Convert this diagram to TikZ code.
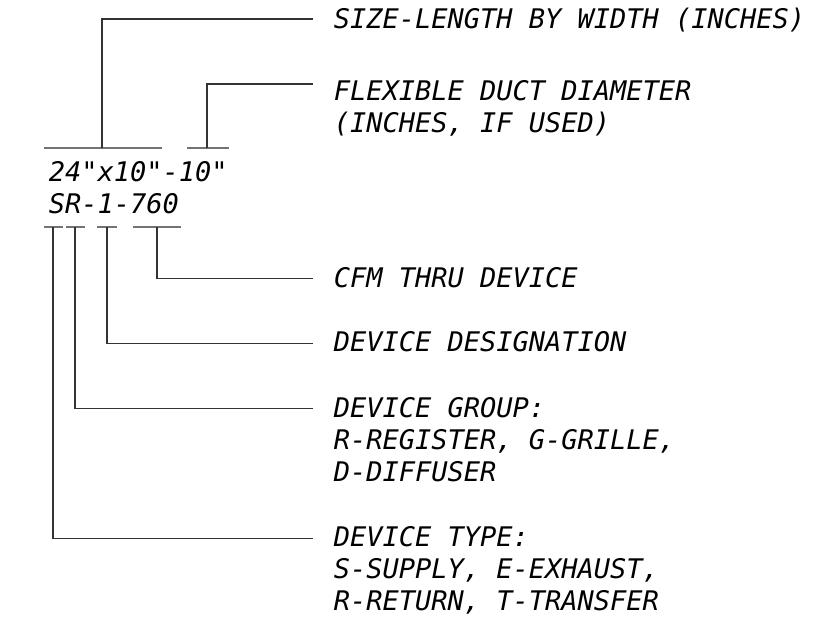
\documentclass[tikz,border=0pt]{standalone}
\usepackage{fontspec}
\setmonofont{DejaVu Sans Mono}[ItalicFont={DejaVu Sans Mono Oblique}]
\usetikzlibrary{positioning, calc}

\begin{document}
\begin{tikzpicture}[
        x=1pt, y=-1pt,
        line width=1.5pt,
        % Styles for the tag legend
        tag/.style={
            inner sep=0pt, anchor=base west,
            font=\fontsize{27}{32}\selectfont\ttfamily\itshape
        },
        note/.style={
            tag, align=left
        },
        bar/.style={draw=black!55},
        leader/.style={draw=black!80}
    ]

    \useasboundingbox (0,0) rectangle (818,621);

    % 1. THE TAG ITSELF
    \node[tag] (sizeTag) at (48, 181.7) {24"x10"-10"};
    \node[tag] (devTag)  at (48, 213.3) {SR-1-760};

    % 2. BARS OVER AND UNDER THE TAG
    \draw[bar] (44,148) -- (162,148);
    \draw[bar] (187,148) -- (229,148);
    \draw[bar] (44,227) -- (63,227);
    \draw[bar] (66,227) -- (85,227);
    \draw[bar] (97,227) -- (117,227);
    \draw[bar] (133,227) -- (181,227);

    \coordinate (sizeBar) at (102,148);
    \coordinate (flexBar) at (207,148);
    \coordinate (typeBar) at (53,227);
    \coordinate (groupBar) at (75,227);
    \coordinate (desigBar) at (107,227);
    \coordinate (cfmBar) at (157,227);

    % 3. LABELS (multi-line ones sit on the baseline of their last line)
    \node[note] (sizeLbl)  at (333, 28.3)  {SIZE-LENGTH BY WIDTH (INCHES)};
    \node[note] (flexLbl)  at (333, 132)   {FLEXIBLE DUCT DIAMETER\\(INCHES, IF USED)};
    \node[note] (cfmLbl)   at (333, 287)   {CFM THRU DEVICE};
    \node[note] (desigLbl) at (333, 351.7) {DEVICE DESIGNATION};
    \node[note] (groupLbl) at (333, 481.7) {DEVICE GROUP:\\R-REGISTER, G-GRILLE,\\D-DIFFUSER};
    \node[note] (typeLbl)  at (333, 610)   {DEVICE TYPE:\\S-SUPPLY, E-EXHAUST,\\R-RETURN, T-TRANSFER};

    % Leader ends, just short of each label
    \coordinate (sizeEnd)  at (313, 19);
    \coordinate (flexEnd)  at (313, 84);
    \coordinate (cfmEnd)   at (313, 278.7);
    \coordinate (desigEnd) at (313, 343.7);
    \coordinate (groupEnd) at (313, 408.7);
    \coordinate (typeEnd)  at (313, 538.3);

    % 4. LEADERS
    \draw[leader] (sizeBar) |- (sizeEnd);
    \draw[leader] (flexBar) |- (flexEnd);
    \draw[leader] (cfmBar) |- (cfmEnd);
    \draw[leader] (desigBar) |- (desigEnd);
    \draw[leader] (groupBar) |- (groupEnd);
    \draw[leader] (typeBar) |- (typeEnd);

\end{tikzpicture}
\end{document}
